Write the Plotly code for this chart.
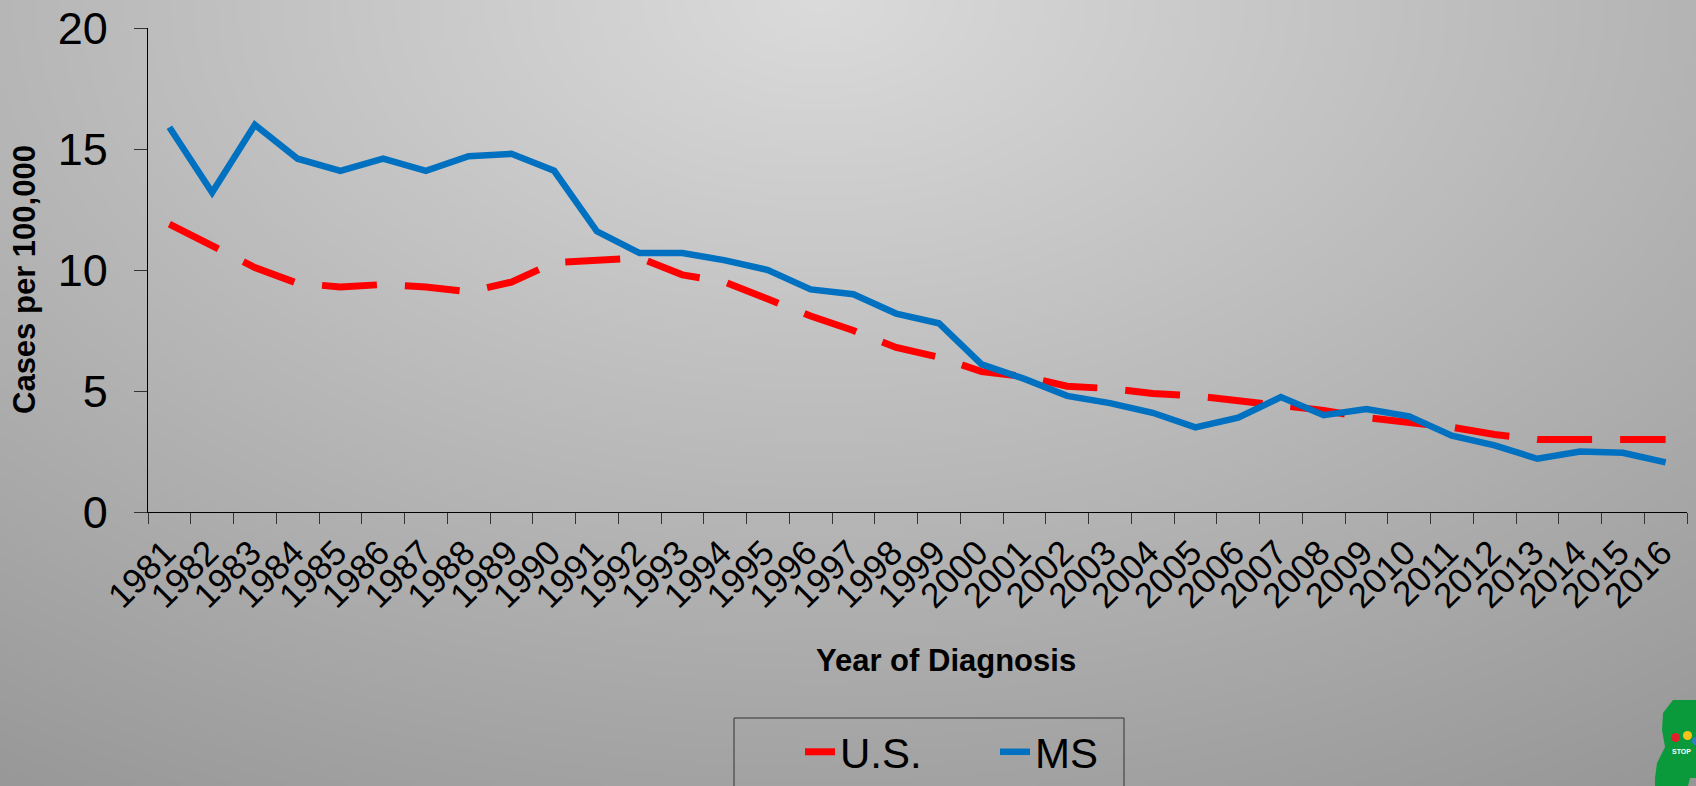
import base64
import struct
import zlib

import numpy as np
import plotly.graph_objects as go

# ---------------- data ----------------
years = [str(y) for y in range(1981, 2017)]
us_rate = [11.9, 11.0, 10.1, 9.45, 9.3, 9.4, 9.3, 9.1, 9.5, 10.3,
           10.4, 10.5, 9.8, 9.5, 8.8, 8.1, 7.5, 6.8, 6.4, 5.8,
           5.6, 5.2, 5.1, 4.9, 4.8, 4.6, 4.4, 4.2, 3.9, 3.7,
           3.5, 3.2, 3.0, 3.0, 3.0, 3.0]
ms_rate = [15.9, 13.2, 16.0, 14.6, 14.1, 14.6, 14.1, 14.7, 14.8, 14.1,
           11.6, 10.7, 10.7, 10.4, 10.0, 9.2, 9.0, 8.2, 7.8, 6.1,
           5.5, 4.8, 4.5, 4.1, 3.5, 3.9, 4.75, 4.0, 4.25, 3.95,
           3.15, 2.75, 2.2, 2.5, 2.45, 2.05]
y_ticks = [0, 5, 10, 15, 20]

# ---------------- layout geometry ----------------
W, H = 1696, 786
L, R, T, B = 148, 9, 28, 274
PW, PH = W - L - R, H - T - B


def px(x):
    return (x - L) / PW


def py(y):
    return (H - B - y) / PH


# ---------------- gradient background (PNG data URI) ----------------
gw, gh = 424, 197
xx, yy = np.meshgrid(np.linspace(0, W, gw), np.linspace(0, H, gh))
r = np.sqrt(((xx - 820) / 900.0) ** 2 + (yy / 560.0) ** 2)
val = np.clip(219 - 40 * r, 140, 225).astype(np.uint8)


def png_bytes(arr):
    h, w = arr.shape
    raw = b"".join(b"\x00" + arr[i].tobytes() for i in range(h))

    def chunk(tag, data):
        c = struct.pack(">I", len(data)) + tag + data
        return c + struct.pack(">I", zlib.crc32(tag + data) & 0xFFFFFFFF)

    return (b"\x89PNG\r\n\x1a\n"
            + chunk(b"IHDR", struct.pack(">IIBBBBB", w, h, 8, 0, 0, 0, 0))
            + chunk(b"IDAT", zlib.compress(raw, 9))
            + chunk(b"IEND", b""))


bg_uri = "data:image/png;base64," + base64.b64encode(png_bytes(val)).decode()

FONT = "Liberation Sans, Arial, sans-serif"

fig = go.Figure()
fig.add_trace(go.Scatter(
    x=years, y=us_rate, name="U.S.", mode="lines",
    line=dict(color="#FF0000", width=7, dash="55px,28px"),
))
fig.add_trace(go.Scatter(
    x=years, y=ms_rate, name="MS", mode="lines",
    line=dict(color="#0070C0", width=6.5),
))

# logo (decorative green state silhouette)
logo_pts = [(1673, 700), (1696, 700), (1696, 778), (1690, 778), (1688, 786),
            (1655, 786), (1655, 778), (1657, 763), (1665, 747), (1662, 730),
            (1663, 713)]
logo_path = "M " + " L ".join(f"{px(a):.5f},{py(b):.5f}" for a, b in logo_pts) + " Z"

shapes = [
    dict(type="path", xref="paper", yref="paper", path=logo_path,
         fillcolor="#0A9A3C", line=dict(width=0), layer="above"),
    dict(type="circle", xref="paper", yref="paper",
         x0=px(1671), x1=px(1680), y0=py(733), y1=py(742),
         fillcolor="#E3202A", line=dict(width=0)),
    dict(type="circle", xref="paper", yref="paper",
         x0=px(1683), x1=px(1692), y0=py(731), y1=py(740),
         fillcolor="#F4C518", line=dict(width=0)),
    dict(type="circle", xref="paper", yref="paper",
         x0=px(1692), x1=px(1700), y0=py(737), y1=py(745),
         fillcolor="#2F7FC8", line=dict(width=0)),
    # legend frame (extends past the bottom edge like the reference)
    dict(type="rect", xref="paper", yref="paper",
         x0=px(734), x1=px(1124), y0=py(718), y1=py(800),
         line=dict(color="#333333", width=1), fillcolor="rgba(0,0,0,0)"),
]

annotations = [
    dict(text="<b>Cases per 100,000</b>", xref="paper", yref="paper",
         x=px(24), y=py(280), textangle=-90, showarrow=False,
         xanchor="center", yanchor="middle",
         font=dict(family=FONT, size=31, color="black")),
    dict(text="<b>Year of Diagnosis</b>", xref="paper", yref="paper",
         x=px(946), y=py(660), showarrow=False,
         xanchor="center", yanchor="middle",
         font=dict(family=FONT, size=31, color="black")),
    dict(text="<b>STOP</b>", xref="paper", yref="paper",
         x=px(1681), y=py(751), showarrow=False,
         xanchor="center", yanchor="middle",
         font=dict(family=FONT, size=7, color="white")),
]

fig.update_layout(
    width=W, height=H,
    margin=dict(l=L, r=R, t=T, b=B, pad=0, autoexpand=False),
    paper_bgcolor="#B4B4B4",
    plot_bgcolor="rgba(0,0,0,0)",
    font=dict(family=FONT, color="black"),
    showlegend=True,
    legend=dict(orientation="h", xref="container", yref="container",
                x=800 / W, y=1 - 752 / H,
                xanchor="left", yanchor="middle",
                bgcolor="rgba(0,0,0,0)", borderwidth=0,
                font=dict(family=FONT, size=42, color="black"),
                entrywidth=150, itemwidth=30),
    images=[dict(source=bg_uri, xref="paper", yref="paper",
                 x=px(0), y=py(0), sizex=W / PW, sizey=H / PH,
                 xanchor="left", yanchor="top", sizing="stretch",
                 layer="below")],
    shapes=shapes,
    annotations=annotations,
)

fig.update_xaxes(
    type="category", range=[-0.5, len(years) - 0.5],
    showgrid=False, zeroline=False, automargin=False,
    showline=True, linecolor="black", linewidth=1.2,
    ticks="outside", tickson="boundaries", ticklen=11, tickcolor="#333333",
    tickangle=-45, ticklabelstandoff=5, ticklabelshift=-4,
    tickfont=dict(family=FONT, size=35, color="black"),
)
fig.update_yaxes(
    range=[0, 20], tickvals=y_ticks, ticktext=[str(v) for v in y_ticks],
    showgrid=False, zeroline=False, automargin=False,
    showline=True, linecolor="black", linewidth=1.2,
    ticks="outside", ticklen=13, tickcolor="#333333",
    ticklabelstandoff=17,
    tickfont=dict(family=FONT, size=45, color="black"),
)

post = (
    "document.documentElement.style.margin='0';"
    "document.body.style.margin='0';"
    "document.body.style.overflow='hidden';"
    "document.body.style.background='#a0a0a0';"
    "var d=document.getElementById('{plot_id}');"
    "d.style.position='fixed';d.style.top='0px';d.style.left='0px';"
)

fig.write_html(
    "out.html",
    config={"displayModeBar": False},
    post_script=post,
)
